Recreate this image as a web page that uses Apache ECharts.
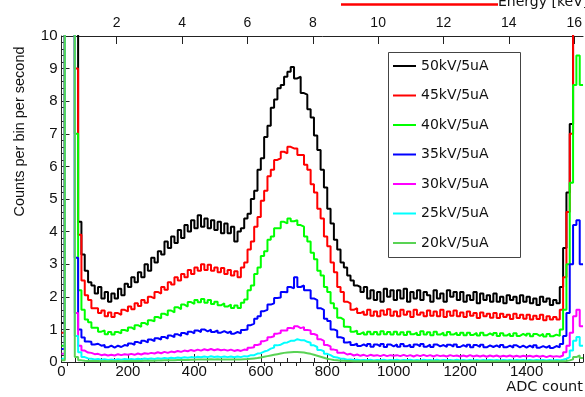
<!DOCTYPE html>
<html><head><meta charset="utf-8">
<script src="https://cdn.jsdelivr.net/npm/echarts@6/dist/echarts.min.js"></script>
<style>html,body{margin:0;padding:0;background:#fff}#c{width:585px;height:397px}</style>
</head><body><div id="c"></div>
<script>
// Histogram binning (ADC counts)
const binStart = 0;
const binWidth = 10;
const adcMax = 1570;
// Top axis (energy, keV) range and ticks
const energyMin = 0.31, energyMax = 16.27;
const energyLabels = [2, 4, 6, 8, 10, 12, 14, 16];
const energyMinor = [0.5,1,1.5,2,2.5,3,3.5,4,4.5,5,5.5,6,6.5,7,7.5,8,8.5,9,9.5,10,10.5,11,11.5,12,12.5,13,13.5,14,14.5,15,15.5,16];
const names = ['50kV/5uA','45kV/5uA','40kV/5uA','35kV/5uA','30kV/5uA','25kV/5uA','20kV/5uA'];
const colors = ['#000000','#ff0000','#00ff00','#0000ff','#ff00ff','#00ffff','#59d354'];

// counts per bin per second, one value per 10-ADC bin starting at 0
const kv50 = [
1.2,12,12,12,12,4.3,3.3,2.8,2.45,2.35,
2.1,2.3,1.95,2.15,1.85,2.1,1.95,2.25,2.05,2.4,
2.3,2.6,2.45,2.75,2.6,3.0,2.8,3.2,3.05,3.4,
3.3,3.7,3.5,3.85,3.65,4.05,3.8,4.2,4.0,4.35,
4.1,4.5,4.15,4.4,4.1,4.35,4.05,4.3,3.95,4.25,
3.95,4.15,3.7,4.0,4.1,4.4,4.55,5.0,5.25,5.9,
6.25,6.9,7.25,7.8,8.05,8.4,8.5,8.75,8.9,9.05,
8.7,8.75,8.25,8.2,7.75,7.5,6.95,6.5,5.9,5.35,
4.7,4.25,3.75,3.45,3.05,2.9,2.65,2.5,2.35,2.3,
2.15,2.3,1.95,2.2,1.9,2.15,1.85,2.25,2.0,2.2,
1.9,2.2,1.95,2.25,1.85,2.15,1.95,2.2,1.9,2.15,
2.05,1.85,2.2,1.95,2.1,1.85,2.2,2.0,2.15,1.9,
2.15,1.85,2.05,1.9,2.15,1.8,2.1,1.9,2.05,1.85,
2.1,1.85,2.0,1.8,2.05,1.9,2.0,1.8,2.05,1.85,
2.0,1.8,1.95,1.75,2.0,1.85,1.95,1.75,1.9,1.8,
2.3,3.5,5.2,7.3,12,12,12];
const kv45 = [
0.9,12,12,12,9,3.9,2.5,2.05,1.9,1.65,
1.65,1.5,1.58,1.4,1.52,1.38,1.5,1.45,1.6,1.55,
1.7,1.62,1.8,1.72,1.9,1.82,2.0,1.95,2.15,2.1,
2.3,2.22,2.45,2.38,2.6,2.5,2.7,2.6,2.82,2.7,
2.9,2.8,3.0,2.82,2.98,2.8,2.9,2.75,2.88,2.7,
2.82,2.65,2.78,2.6,2.9,3.05,3.45,3.7,4.15,4.45,
4.95,5.25,5.7,5.9,6.2,6.25,6.45,6.4,6.6,6.55,
6.55,6.35,6.35,6.05,5.9,5.45,5.2,4.7,4.4,3.85,
3.55,3.05,2.75,2.3,2.15,1.85,1.8,1.6,1.65,1.5,
1.55,1.45,1.6,1.42,1.55,1.4,1.58,1.45,1.62,1.42,
1.55,1.4,1.6,1.45,1.55,1.38,1.6,1.45,1.52,1.4,
1.58,1.42,1.55,1.4,1.6,1.38,1.55,1.42,1.58,1.4,
1.52,1.38,1.55,1.42,1.5,1.35,1.52,1.4,1.48,1.36,
1.5,1.35,1.48,1.38,1.45,1.32,1.48,1.35,1.45,1.33,
1.45,1.3,1.42,1.32,1.45,1.28,1.4,1.3,1.38,1.3,
1.6,2.6,4.6,7.0,12,12,12];
const kv40 = [
0.5,12,12,12,7,2.2,1.6,1.3,1.22,1.05,
1.05,0.93,0.97,0.85,0.92,0.84,0.92,0.88,0.98,0.95,
1.06,1.0,1.13,1.08,1.2,1.14,1.28,1.25,1.38,1.34,
1.48,1.43,1.58,1.52,1.68,1.62,1.76,1.7,1.84,1.78,
1.9,1.83,1.93,1.82,1.9,1.78,1.85,1.74,1.8,1.7,
1.76,1.66,1.73,1.66,1.82,1.92,2.2,2.35,2.7,2.9,
3.25,3.4,3.75,3.85,4.1,4.1,4.3,4.25,4.4,4.32,
4.35,4.2,4.15,3.85,3.7,3.35,3.15,2.8,2.65,2.3,
2.15,1.8,1.65,1.36,1.3,1.08,1.07,0.93,0.96,0.86,
0.92,0.84,0.93,0.85,0.92,0.84,0.94,0.85,0.92,0.84,
0.93,0.84,0.91,0.83,0.93,0.85,0.9,0.83,0.94,0.84,
0.91,0.82,0.93,0.84,0.9,0.82,0.92,0.84,0.9,0.83,
0.9,0.82,0.9,0.83,0.89,0.81,0.9,0.82,0.88,0.82,
0.89,0.8,0.88,0.81,0.87,0.8,0.88,0.8,0.86,0.8,
0.87,0.79,0.86,0.8,0.86,0.78,0.86,0.79,0.84,0.8,
1.0,1.6,3.0,5.5,8.5,9.4,8.5];
const kv35 = [
0.4,12,12,12,3.2,1.0,0.75,0.63,0.62,0.54,
0.56,0.5,0.52,0.45,0.5,0.44,0.5,0.46,0.52,0.5,
0.57,0.53,0.61,0.57,0.65,0.6,0.69,0.64,0.73,0.69,
0.77,0.72,0.81,0.76,0.85,0.8,0.89,0.84,0.93,0.88,
0.97,0.92,1.0,0.94,0.99,0.92,0.97,0.9,0.95,0.89,
0.94,0.87,0.92,0.88,0.98,1.0,1.13,1.18,1.33,1.4,
1.56,1.6,1.76,1.8,1.96,1.98,2.15,2.14,2.3,2.26,
2.6,2.3,2.35,2.2,2.2,1.95,1.9,1.65,1.6,1.33,
1.26,1.0,0.96,0.76,0.73,0.6,0.61,0.52,0.56,0.49,
0.54,0.48,0.55,0.47,0.54,0.48,0.55,0.46,0.54,0.48,
0.54,0.47,0.55,0.48,0.53,0.46,0.54,0.48,0.55,0.47,
0.53,0.46,0.54,0.48,0.52,0.46,0.53,0.47,0.54,0.46,
0.52,0.46,0.53,0.45,0.52,0.46,0.53,0.45,0.51,0.46,
0.51,0.45,0.52,0.45,0.5,0.44,0.51,0.45,0.5,0.44,
0.5,0.44,0.51,0.44,0.49,0.44,0.5,0.43,0.49,0.45,
0.55,0.8,1.5,3.0,4.2,4.35,3.0];
const kv30 = [
0.25,12,12,12,1.5,0.5,0.35,0.29,0.28,0.24,
0.25,0.21,0.23,0.2,0.22,0.2,0.24,0.21,0.24,0.22,
0.25,0.22,0.26,0.23,0.27,0.25,0.28,0.26,0.3,0.27,
0.31,0.28,0.32,0.3,0.34,0.31,0.35,0.33,0.37,0.34,
0.38,0.35,0.39,0.36,0.4,0.36,0.39,0.36,0.38,0.35,
0.38,0.34,0.37,0.34,0.38,0.37,0.44,0.45,0.52,0.55,
0.64,0.67,0.76,0.79,0.87,0.89,0.97,0.97,1.04,1.03,
1.1,1.04,1.07,0.98,0.97,0.86,0.82,0.7,0.65,0.52,
0.48,0.38,0.36,0.28,0.29,0.23,0.25,0.2,0.23,0.19,
0.22,0.18,0.22,0.19,0.21,0.18,0.22,0.18,0.21,0.19,
0.21,0.18,0.22,0.18,0.21,0.17,0.21,0.18,0.22,0.18,
0.21,0.17,0.21,0.18,0.2,0.17,0.21,0.18,0.2,0.17,
0.2,0.17,0.21,0.17,0.2,0.17,0.2,0.16,0.2,0.17,
0.2,0.16,0.19,0.17,0.2,0.16,0.19,0.16,0.19,0.17,
0.19,0.16,0.19,0.16,0.19,0.15,0.19,0.16,0.18,0.16,
0.2,0.3,0.5,0.9,1.4,1.6,1.1];
const kv25 = [
0.1,12,12,12,0.8,0.3,0.15,0.11,0.1,0.08,
0.09,0.07,0.085,0.065,0.08,0.065,0.085,0.07,0.09,0.075,
0.095,0.08,0.1,0.085,0.105,0.09,0.11,0.095,0.115,0.1,
0.12,0.105,0.13,0.115,0.14,0.12,0.145,0.13,0.15,0.135,
0.16,0.145,0.17,0.15,0.175,0.155,0.17,0.15,0.17,0.15,
0.17,0.145,0.17,0.15,0.18,0.17,0.21,0.21,0.26,0.27,
0.32,0.35,0.41,0.44,0.51,0.53,0.59,0.6,0.65,0.65,
0.7,0.67,0.67,0.62,0.59,0.51,0.46,0.37,0.33,0.25,
0.21,0.15,0.14,0.1,0.1,0.07,0.08,0.06,0.07,0.055,
0.065,0.055,0.07,0.05,0.065,0.055,0.07,0.05,0.065,0.055,
0.07,0.05,0.065,0.055,0.07,0.05,0.065,0.05,0.07,0.055,
0.065,0.05,0.07,0.05,0.065,0.055,0.065,0.05,0.07,0.05,
0.065,0.05,0.065,0.05,0.065,0.045,0.065,0.05,0.06,0.05,
0.065,0.045,0.06,0.05,0.065,0.045,0.06,0.05,0.06,0.045,
0.06,0.045,0.06,0.05,0.06,0.045,0.06,0.045,0.06,0.05,
0.07,0.1,0.15,0.35,0.65,0.77,0.5];
const kv20 = [
0.05,12,12,12,0.15,0.05,0.035,0.03,0.03,0.03,
0.03,0.025,0.03,0.025,0.03,0.025,0.03,0.025,0.03,0.03,
0.035,0.03,0.035,0.03,0.04,0.035,0.04,0.04,0.045,0.045,
0.05,0.05,0.055,0.055,0.06,0.06,0.065,0.065,0.07,0.07,
0.075,0.075,0.08,0.08,0.085,0.08,0.085,0.08,0.08,0.08,
0.08,0.08,0.08,0.08,0.085,0.09,0.1,0.11,0.12,0.14,
0.16,0.18,0.2,0.22,0.24,0.26,0.28,0.29,0.3,0.31,
0.31,0.3,0.29,0.27,0.25,0.22,0.19,0.16,0.13,0.1,
0.08,0.06,0.05,0.04,0.035,0.03,0.03,0.025,0.025,0.025,
0.02,0.025,0.02,0.02,0.025,0.02,0.02,0.025,0.02,0.02,
0.02,0.02,0.025,0.02,0.02,0.025,0.02,0.02,0.02,0.025,
0.02,0.025,0.02,0.02,0.02,0.025,0.02,0.02,0.025,0.02,
0.02,0.02,0.025,0.02,0.02,0.02,0.025,0.02,0.02,0.02,
0.02,0.025,0.02,0.02,0.02,0.02,0.025,0.02,0.02,0.02,
0.02,0.02,0.02,0.025,0.02,0.02,0.02,0.02,0.025,0.02,
0.02,0.03,0.05,0.08,0.15,0.2,0.12];
const allSeries = [kv50, kv45, kv40, kv35, kv30, kv25, kv20];

function binPoints(vals) {
  const pts = vals.map((v, i) => [binStart + i * binWidth, v]);
  pts.push([binStart + vals.length * binWidth, vals[vals.length - 1]]);
  return pts;
}

const axisColor = '#222';
const chart = echarts.init(document.getElementById('c'), null, {renderer: 'canvas'});
chart.setOption({
  animation: false,
  grid: {left: 61.5, top: 36, right: 0, bottom: 35, containLabel: false},
  legend: {
    data: names, orient: 'vertical', left: 393, top: 59, padding: 0,
    icon: 'path://M0,0H23V2H0Z',
    itemWidth: 23, itemHeight: 2, itemGap: 15.5, selectedMode: false,
    textStyle: {fontFamily: 'DejaVu Sans', fontSize: 14, color: '#111', lineHeight: 14},
    z: 10
  },
  xAxis: [
    {type: 'value', position: 'bottom', min: 0, max: adcMax, interval: 200,
     axisLine: {show: true, onZero: false, lineStyle: {color: axisColor, width: 1}},
     axisTick: {show: true, inside: true, length: 8, lineStyle: {color: axisColor}},
     minorTick: {show: true, splitNumber: 5, length: 4, lineStyle: {color: axisColor}},
     splitLine: {show: false},
     axisLabel: {margin: 2, fontFamily: 'Liberation Sans', fontSize: 15, color: '#111', showMaxLabel: false,
                 formatter: v => String(v)}},
    {type: 'value', position: 'top', min: energyMin, max: energyMax,
     axisLine: {show: true, onZero: false, lineStyle: {color: axisColor, width: 1}},
     axisTick: {show: true, inside: true, length: 8, customValues: energyLabels, lineStyle: {color: axisColor}},
     splitLine: {show: false},
     axisLabel: {margin: 6, customValues: energyLabels, fontFamily: 'Liberation Sans', fontSize: 14, color: '#111',
                 formatter: v => String(v)}},
    {type: 'value', position: 'top', min: energyMin, max: energyMax,
     axisLine: {show: false},
     axisTick: {show: true, inside: true, length: 4, customValues: energyMinor, lineStyle: {color: axisColor}},
     splitLine: {show: false},
     axisLabel: {show: false}}
  ],
  yAxis: {type: 'value', min: 0, max: 10, interval: 1,
    axisLine: {show: true, onZero: false, lineStyle: {color: axisColor, width: 1}},
    axisTick: {show: true, inside: true, length: 8, lineStyle: {color: axisColor}},
    minorTick: {show: true, splitNumber: 5, length: 4, lineStyle: {color: axisColor}},
    splitLine: {show: false},
    axisLabel: {margin: 4, fontFamily: 'Liberation Sans', fontSize: 15, color: '#111'}},
  graphic: [
    {type: 'rect', shape: {x: 388.5, y: 52.5, width: 132, height: 205}, style: {fill: '#fff', stroke: '#444', lineWidth: 1}, z: 5},
    {type: 'text', x: 19.5, y: 131.5, rotation: Math.PI / 2,
     style: {text: 'Counts per bin per second', fontFamily: 'Liberation Sans', fontSize: 14.5, fill: '#111', align: 'center', verticalAlign: 'middle'}},
    {type: 'text', x: 583, y: 387,
     style: {text: 'ADC count', fontFamily: 'DejaVu Sans', fontSize: 14.5, fill: '#111', align: 'right', verticalAlign: 'middle'}},
    {type: 'text', x: 498, y: 2.5,
     style: {text: 'Energy [keV]', fontFamily: 'DejaVu Sans', fontSize: 14, fill: '#111', align: 'left', verticalAlign: 'middle'}},
    {type: 'line', shape: {x1: 341, y1: 4.5, x2: 498, y2: 4.5}, style: {stroke: '#ff0000', lineWidth: 2.5}}
  ],
  series: allSeries.map((vals, i) => ({
    name: names[i], type: 'line', step: 'end', xAxisIndex: 0,
    data: binPoints(vals), symbol: 'none', clip: true,
    lineStyle: {color: colors[i], width: 2}, itemStyle: {color: colors[i]},
    z: 2 + i
  }))
});
</script></body></html>
